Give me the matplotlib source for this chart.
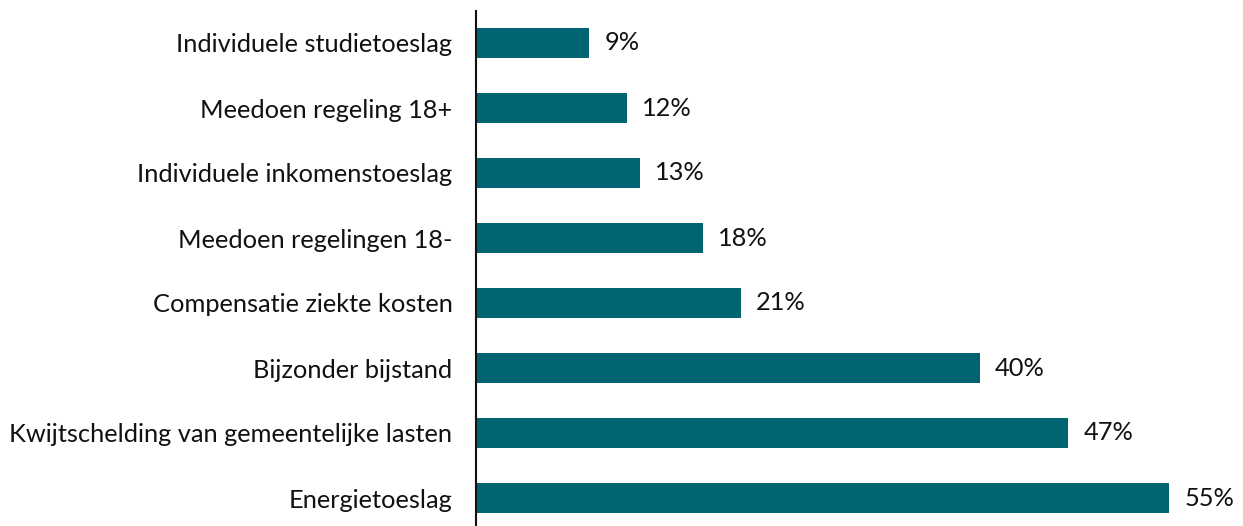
import matplotlib
matplotlib.use("Agg")
import matplotlib.pyplot as plt

categories = [
    "Individuele studietoeslag",
    "Meedoen regeling 18+",
    "Individuele inkomenstoeslag",
    "Meedoen regelingen 18-",
    "Compensatie ziekte kosten",
    "Bijzonder bijstand",
    "Kwijtschelding van gemeentelijke lasten",
    "Energietoeslag",
]
values = [9, 12, 13, 18, 21, 40, 47, 55]

plt.rcParams['font.family'] = ['Lato', 'DejaVu Sans']

fig = plt.figure(figsize=(12.43, 5.26), dpi=100)
ax = fig.add_axes([476/1243, -4.5/526, (60*12.6)/1243, 520/526])

y = list(range(len(categories)))
ax.barh(y, values, height=0.47, color="#006472")
for yi, v in zip(y, values):
    ax.text(v + 1.2, yi, f"{v}%", va="center", ha="left", fontsize=18.3, color="#111111")

ax.set_yticks(y)
ax.set_yticklabels(categories, fontsize=18.3, color="#111111")
ax.set_ylim(len(categories) - 0.5, -0.5)
ax.set_xlim(0, 60)
ax.tick_params(axis="y", length=0, pad=17)
ax.set_xticks([])
for s in ["top", "right", "bottom"]:
    ax.spines[s].set_visible(False)
ax.spines["left"].set_linewidth(1.5)
ax.spines["left"].set_color("#111111")

fig.savefig("out.png", dpi=100)
